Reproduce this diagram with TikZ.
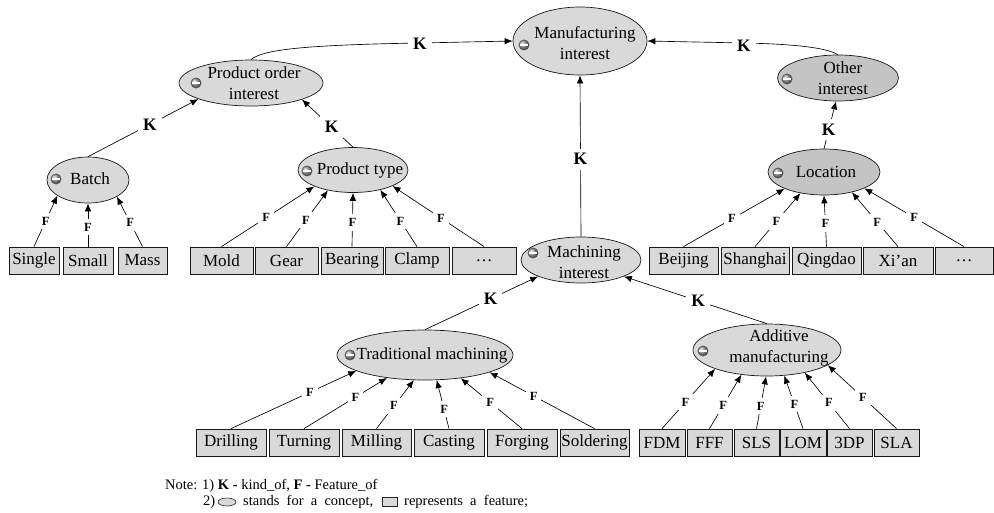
\documentclass[tikz,border=0pt]{standalone}
\usepackage{fontspec}
\setmainfont{Liberation Serif}
\usetikzlibrary{shapes.geometric,arrows.meta}
\definecolor{cfill}{HTML}{D9D9D9}
\definecolor{cdark}{HTML}{C4C4C4}
\definecolor{bfill}{HTML}{D9D9D9}
\tikzset{
  conceptmark/.pic={
    \shade[ball color=gray!75] (0,0) circle (5.2pt);
    \draw[black!70, line width=0.4pt] (0,0) circle (5.2pt);
    \fill[white] (-3.6,-1.1) rectangle (3.6,1.1);
  }
}
\begin{document}
\begin{tikzpicture}[x=1pt,y=-1pt,
  concept/.style={ellipse, draw=black!90, line width=0.7pt, fill=cfill, inner sep=0pt},
  feat/.style={rectangle, draw=black!90, line width=0.8pt, fill=bfill, minimum height=27pt, inner sep=0pt, font=\fontsize{17}{17}\selectfont},
  ctext/.style={align=center, font=\fontsize{17}{20.5}\selectfont, inner sep=0pt},
  arr/.style={line width=0.65pt, -{Latex[length=8pt,width=6.5pt]}},
  klab/.style={fill=white, inner sep=5pt, font=\bfseries\fontsize{17.5}{17.5}\selectfont},
  flab/.style={fill=white, inner sep=4pt, font=\bfseries\fontsize{12.5}{12.5}\selectfont},
  notefont/.style={inner sep=0pt, font=\fontsize{14.5}{15}\selectfont},
]
\useasboundingbox (0,0) rectangle (994,512);

% ---------- concepts ----------
\node[concept, minimum width=134pt, minimum height=68pt] (mi) at (580,41) {};
\node[concept, minimum width=144pt, minimum height=46pt] (poi) at (251,83) {};
\node[concept, minimum width=82pt, minimum height=46pt] (batch) at (88,180) {};
\node[concept, minimum width=110pt, minimum height=45pt] (ptype) at (353,170) {};
\node[concept, fill=cdark, minimum width=121pt, minimum height=46pt] (oi) at (838,78) {};
\node[concept, fill=cdark, minimum width=112pt, minimum height=46pt] (loc) at (824,172) {};
\node[concept, minimum width=120pt, minimum height=46pt] (mach) at (581,260) {};
\node[concept, minimum width=176pt, minimum height=50pt] (trad) at (425,355) {};
\node[concept, minimum width=148pt, minimum height=52pt] (add) at (767,350) {};

\node[ctext] (mit) at (585,43) {Manufacturing\\interest};
\node[ctext] (poit) at (254,83) {Product order\\interest};
\node[ctext] (batcht) at (90,179) {Batch};
\node[ctext] (ptypet) at (360,170) {Product type};
\node[ctext] (oit) at (843,78) {Other\\interest};
\node[ctext] (loct) at (826,172) {Location};
\node[ctext] (macht) at (584,262) {Machining\\interest};
\node[ctext] (tradt) at (432,355) {Traditional machining};
\node[ctext] (addt) at (779,348) {Additive\\manufacturing};

\pic at (524,45) {conceptmark};
\pic at (196,83) {conceptmark};
\pic at (56,179) {conceptmark};
\pic at (307,171) {conceptmark};
\pic at (787,79) {conceptmark};
\pic at (778,173) {conceptmark};
\pic at (533,253) {conceptmark};
\pic at (350,355) {conceptmark};
\pic at (703,351) {conceptmark};

% ---------- features, top row ----------
\node[feat, minimum width=50pt] (single) at (34,260.5) {Single};
\node[feat, minimum width=50pt] (small) at (88,260.5) {Small};
\node[feat, minimum width=49pt] (mass) at (142.5,260.5) {Mass};
\node[feat, minimum width=63pt] (mold) at (221.5,260.5) {Mold};
\node[feat, minimum width=63pt] (gear) at (286.5,260.5) {Gear};
\node[feat, minimum width=62pt] (bearing) at (352,260.5) {Bearing};
\node[feat, minimum width=64pt] (clamp) at (417,260.5) {Clamp};
\node[feat, minimum width=64pt] (pdots) at (484,260.5) {\dots};
\node[feat, minimum width=69pt] (beijing) at (683.5,260.5) {Beijing};
\node[feat, minimum width=68pt] (shanghai) at (755,260.5) {Shanghai};
\node[feat, minimum width=69pt] (qingdao) at (826.5,260.5) {Qingdao};
\node[feat, minimum width=70pt] (xian) at (898,260.5) {Xi’an};
\node[feat, minimum width=58pt] (ldots) at (964,260.5) {\dots};

% ---------- features, bottom row ----------
\node[feat, minimum width=70pt] (drilling) at (231,442.5) {Drilling};
\node[feat, minimum width=70pt] (turning) at (304,442.5) {Turning};
\node[feat, minimum width=69pt] (milling) at (376.5,442.5) {Milling};
\node[feat, minimum width=70pt] (casting) at (449,442.5) {Casting};
\node[feat, minimum width=70pt] (forging) at (522,442.5) {Forging};
\node[feat, minimum width=69pt] (soldering) at (594.5,442.5) {Soldering};
\node[feat, minimum width=46pt] (fdm) at (662,442.5) {FDM};
\node[feat, minimum width=45pt] (fff) at (709.5,442.5) {FFF};
\node[feat, minimum width=45pt] (sls) at (756.5,442.5) {SLS};
\node[feat, minimum width=46pt] (lom) at (803,442.5) {LOM};
\node[feat, minimum width=45pt] (tdp) at (849.5,442.5) {3DP};
\node[feat, minimum width=45pt] (sla) at (896.5,442.5) {SLA};

% ---------- K (kind_of) connectors ----------
\coordinate (k1) at (420,43);
\coordinate (k2) at (744,43);
\draw[arr] (poi.north) .. controls (262,50) and (300,45) .. (k1) -- (mi.west);
\node[klab] (k1lab) at (420,44) {K};
\draw[arr] (oi.north) .. controls (825,47) and (790,44) .. (k2) -- (mi.east);
\node[klab] (k2lab) at (744,46) {K};
\draw[arr] (batch.north) -- node[klab, pos=0.56] (k3lab) {K} (poi.197);
\draw[arr] (ptype.north) -- node[klab, pos=0.42] (k4lab) {K} (poi.342);
\draw[arr] (loc.north) -- node[klab, pos=0.4] (k5lab) {K} (oi.265);
\draw[arr] (mach.north) -- node[klab, pos=0.48] (k6lab) {K} (mi.south);
\draw[arr] (trad.north) -- node[klab, pos=0.58] (k7lab) {K} (mach.201);
\draw[arr] (add.north) -- node[klab, pos=0.48] (k8lab) {K} (mach.339);

% ---------- F (feature_of) connectors ----------
\draw[arr] (single.north) -- node[flab, pos=0.5] (f1) {F} (batch.207);
\draw[arr] (small.north) -- node[flab, pos=0.45] (f2) {F} (batch.270);
\draw[arr] (mass.north) -- node[flab, pos=0.48] (f3) {F} (batch.330);

\draw[arr] (mold.north) -- node[flab, pos=0.48] (f4) {F} (ptype.203);
\draw[arr] (gear.north) -- node[flab, pos=0.47] (f5) {F} (ptype.219);
\draw[arr] (bearing.north) -- node[flab, pos=0.45] (f6) {F} (ptype.270);
\draw[arr] (clamp.north) -- node[flab, pos=0.45] (f7) {F} (ptype.324);
\draw[arr] (pdots.north) -- node[flab, pos=0.47] (f8) {F} (ptype.338);

\draw[arr] (beijing.north) -- node[flab, pos=0.48] (f9) {F} (loc.203);
\draw[arr] (shanghai.north) -- node[flab, pos=0.47] (f10) {F} (loc.222);
\draw[arr] (qingdao.north) -- node[flab, pos=0.45] (f11) {F} (loc.270);
\draw[arr] (xian.north) -- node[flab, pos=0.45] (f12) {F} (loc.324);
\draw[arr] (ldots.north) -- node[flab, pos=0.5] (f13) {F} (loc.338);

\draw[arr] (drilling.north) -- node[flab, pos=0.63] (f14) {F} (trad.193);
\draw[arr] (turning.north) -- node[flab, pos=0.62] (f15) {F} (trad.211);
\draw[arr] (milling.north) -- node[flab, pos=0.47] (f16) {F} (trad.246);
\draw[arr] (casting.north) -- node[flab, pos=0.4] (f17) {F} (trad.295);
\draw[arr] (forging.north) -- node[flab, pos=0.52] (f18) {F} (trad.327);
\draw[arr] (soldering.north) -- node[flab, pos=0.58] (f19) {F} (trad.345);

\draw[arr] (fdm.north) -- node[flab, pos=0.44] (f20) {F} (add.200);
\draw[arr] (fff.north) -- node[flab, pos=0.43] (f21) {F} (add.224);
\draw[arr] (sls.north) -- node[flab, pos=0.43] (f22) {F} (add.268);
\draw[arr] (lom.north) -- node[flab, pos=0.46] (f23) {F} (add.304);
\draw[arr] (tdp.north) -- node[flab, pos=0.46] (f24) {F} (add.329);
\draw[arr] (sla.north) -- node[flab, pos=0.49] (f25) {F} (add.346);

% ---------- note ----------
\node[notefont, anchor=west] (note1) at (165,486) {Note: 1) \textbf{K -} kind\_of, \textbf{F -} Feature\_of};
\node[notefont, anchor=west] (note2a) at (203,502) {2)};
\node[ellipse, draw=black!85, fill=cfill, line width=0.6pt, minimum width=18pt, minimum height=8pt, inner sep=0pt] (noteell) at (227,502) {};
\node[notefont, anchor=west] (note2b) at (243,502) {stands\ \ for\ \ a\ \ concept,};
\node[rectangle, draw=black!85, fill=bfill, line width=0.6pt, minimum width=15pt, minimum height=9pt, inner sep=0pt] (noterect) at (390,502) {};
\node[notefont, anchor=west] (note2c) at (404,502) {represents\ \ a\ \ feature;};
\end{tikzpicture}
\end{document}
